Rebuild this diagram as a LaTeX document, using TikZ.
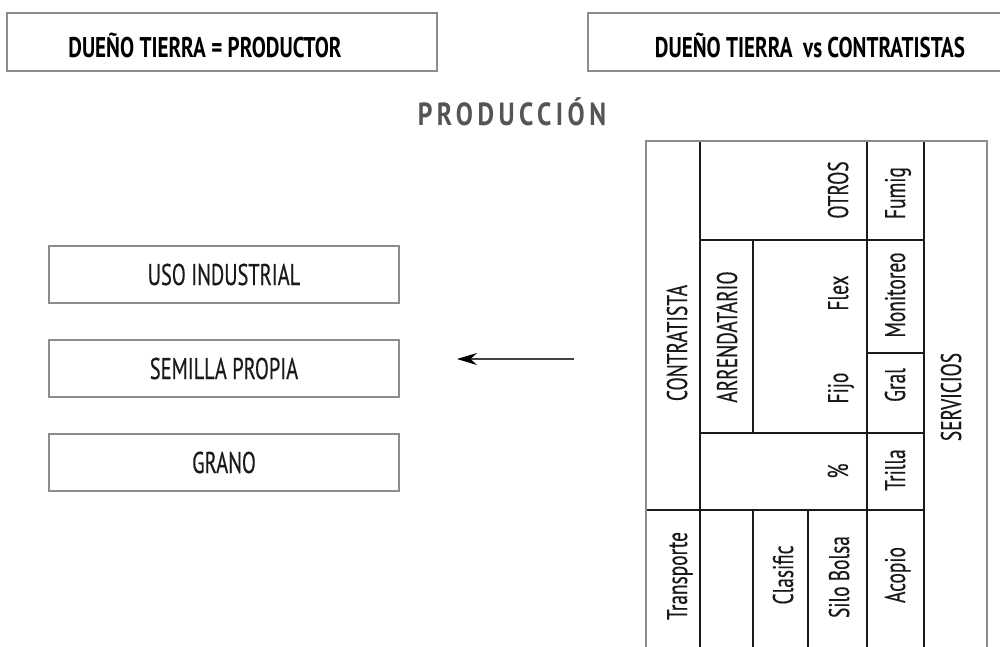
\documentclass[tikz,border=0pt]{standalone}
\usepackage{fontspec}
\setmainfont{PT Sans}[FakeStretch=0.68,FakeBold=0.4]
\newfontfamily\headfont{PT Sans Bold}[FakeStretch=0.74]
\newfontfamily\titlefont{PT Sans Bold}[FakeStretch=0.8,LetterSpace=14]
\usetikzlibrary{arrows.meta}
\definecolor{boxgray}{HTML}{8C8C8C}
\definecolor{ink}{HTML}{1A1A1A}
\definecolor{titlegray}{HTML}{555555}
\definecolor{arrowgray}{HTML}{444444}
\tikzset{
  tbox/.style={draw=boxgray, line width=1.6pt, rectangle, inner sep=0pt},
  headtext/.style={anchor=base, inner sep=0pt, text=black, font=\headfont\fontsize{28.5}{30}\selectfont},
  usebox/.style={draw=boxgray, line width=1.4pt, rectangle, inner sep=0pt,
    minimum width=350pt, minimum height=57pt, text=ink,
    font=\fontsize{30}{32}\selectfont},
  outerline/.style={draw=boxgray, line width=1.6pt},
  innerline/.style={draw=ink, line width=1.2pt},
  cell/.style={rotate=90, anchor=base, inner sep=0pt, text=ink,
    font=\fontsize{28.5}{30}\selectfont},
  flowarrow/.style={draw=arrowgray, line width=1.5pt,
    -{Stealth[length=20pt,width=12pt,color=black]}}
}
\begin{document}
\begin{tikzpicture}[x=1pt,y=-1pt]
\useasboundingbox (0,0) rectangle (1000,646);
% top boxes
\node[tbox, minimum width=430pt, minimum height=58pt] (leftframe) at (222,42) {};
\node[tbox, minimum width=422pt, minimum height=58pt] (rightframe) at (799,42) {};
\node[headtext] (lefttitle) at (205,57) {DUEÑO TIERRA = PRODUCTOR};
\node[headtext] (righttitle) at (810,57) {DUEÑO TIERRA\ \ vs CONTRATISTAS};
% title
\node[anchor=base, inner sep=0pt, text=titlegray, font=\titlefont\fontsize{32}{34}\selectfont] (prod) at (512,125) {PRODUCCIÓN};
% left boxes
\node[usebox] (uso) at (224,274.5) {USO INDUSTRIAL};
\node[usebox] (semilla) at (224,368.5) {SEMILLA PROPIA};
\node[usebox] (grano) at (224,462.5) {GRANO};
% arrow
\coordinate (arrowstart) at (574,359);
\coordinate (arrowend) at (457,359);
\draw[flowarrow] (arrowstart) -- (arrowend);
% table grid
\draw[outerline] (646,652) -- (646,141) -- (987,141) -- (987,652);
\draw[innerline] (700,142) -- (700,652);
\draw[innerline] (753,240) -- (753,433);
\draw[innerline] (753,510) -- (753,652);
\draw[innerline] (808,510) -- (808,652);
\draw[innerline] (867,142) -- (867,652);
\draw[innerline] (924,142) -- (924,652);
\draw[innerline] (700,240) -- (924,240);
\draw[innerline] (867,353) -- (924,353);
\draw[innerline] (700,433) -- (924,433);
\draw[innerline] (647,510) -- (924,510);
% table texts
\node[cell] (contratista) at (687,343) {CONTRATISTA};
\node[cell] (arrendatario) at (737,337) {ARRENDATARIO};
\node[cell] (otros) at (848,190) {OTROS};
\node[cell] (flex) at (848,293) {Flex};
\node[cell] (fijo) at (848,388) {Fijo};
\node[cell] (pct) at (848,471) {\%};
\node[cell] (fumig) at (905,193) {Fumig};
\node[cell] (monitoreo) at (905,295) {Monitoreo};
\node[cell] (gral) at (905,385) {Gral};
\node[cell] (trilla) at (905,470) {Trilla};
\node[cell] (acopio) at (905,575) {Acopio};
\node[cell] (silo) at (849,577) {Silo Bolsa};
\node[cell] (clasific) at (793,575) {Clasific};
\node[cell] (transporte) at (687,576) {Transporte};
\node[cell] (servicios) at (961,397) {SERVICIOS};
\end{tikzpicture}
\end{document}
